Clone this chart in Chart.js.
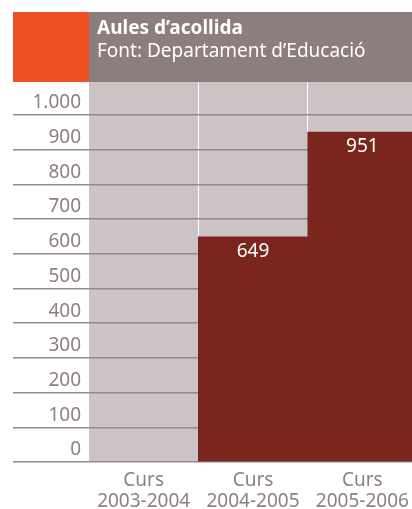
<!DOCTYPE html>
<html>
<head>
<meta charset="utf-8">
<script src="https://cdn.jsdelivr.net/npm/chart.js@4.4.1/dist/chart.umd.min.js"></script>
<style>
  html, body { margin: 0; padding: 0; background: #fff; overflow: hidden; }
  canvas { display: block; }
</style>
</head>
<body>
<!-- a few px wider than the window: the original is cropped on the right -->
<canvas id="chart" width="417" height="509"></canvas>
<script>
const ORANGE = "#f04e23";
const HEAD_GREY = "#8c7e7f";
const PLOT_BG = "#cbc3c4";
const BAR_RED = "#7a261f";
const TEXT_GREY = "#8d8081";
const GRID_GREY = "#958a8b";
const FONT = "'Noto Sans', 'Open Sans', sans-serif";

const TITLE = "Aules d\u2019acollida";
const SOURCE = "Font: Departament d\u2019Educaci\u00f3";

const COURSES = [["Curs", "2003-2004"], ["Curs", "2004-2005"], ["Curs", "2005-2006"]];
const CLASSROOMS = [null, 649, 951];
const Y_TICKS = [0, 100, 200, 300, 400, 500, 600, 700, 800, 900, 1000];

// 1000 -> "1.000"
const fmt = (v) => String(v).replace(/\B(?=(\d{3})+$)/g, ".");

// background of the plot + the header band with title
const framePlugin = {
  id: "frame",
  beforeDraw: (chart) => {
    const { ctx, chartArea: { left, right, top, bottom } } = chart;
    ctx.save();
    ctx.fillStyle = PLOT_BG;
    ctx.fillRect(left, top, right - left, bottom - top);

    ctx.fillStyle = ORANGE;
    ctx.fillRect(13, 12, left - 13, top - 12);
    ctx.fillStyle = HEAD_GREY;
    ctx.fillRect(left, 12, right - left, top - 12);

    ctx.fillStyle = "#ffffff";
    ctx.textAlign = "left";
    ctx.textBaseline = "alphabetic";
    ctx.font = "bold 19px " + FONT;
    ctx.fillText(TITLE, left + 8, 34);
    ctx.font = "19px " + FONT;
    ctx.fillText(SOURCE, left + 8, 57);
    ctx.restore();
  },
};

// value inside the top of each bar
const valuePlugin = {
  id: "values",
  afterDatasetsDraw: (chart) => {
    const { ctx } = chart;
    const meta = chart.getDatasetMeta(0);
    ctx.save();
    ctx.fillStyle = "#ffffff";
    ctx.font = "19px " + FONT;
    ctx.textAlign = "center";
    ctx.textBaseline = "middle";
    meta.data.forEach((bar, i) => {
      const v = CLASSROOMS[i];
      if (v == null) return;
      ctx.fillText(String(v), bar.x, bar.y + 15);
    });
    ctx.restore();
  },
};

new Chart(document.getElementById("chart"), {
  type: "bar",
  data: {
    labels: COURSES,
    datasets: [
      {
        data: CLASSROOMS,
        backgroundColor: BAR_RED,
        borderWidth: 0,
        categoryPercentage: 1,
        barPercentage: 1,
      },
    ],
  },
  options: {
    responsive: false,
    animation: false,
    layout: { padding: { left: 0, right: 0, top: 82, bottom: 0 } },
    plugins: {
      legend: { display: false },
      tooltip: { enabled: false },
    },
    scales: {
      x: {
        offset: true,
        border: { display: false },
        afterFit: (s) => {
          s.height = 47;
        },
        grid: {
          offset: true,
          drawTicks: false,
          lineWidth: 1,
          color: (c) =>
            c.index > 0 && c.index < COURSES.length ? "#ffffff" : "rgba(0,0,0,0)",
        },
        ticks: {
          color: TEXT_GREY,
          padding: 8,
          font: { family: FONT, size: 19, lineHeight: 1.1 },
          maxRotation: 0,
          autoSkip: false,
        },
      },
      y: {
        min: 0,
        max: 1095,
        border: { display: false },
        afterBuildTicks: (s) => {
          s.ticks = Y_TICKS.map((v) => ({ value: v }));
        },
        afterFit: (s) => {
          s.width = 89;
        },
        grid: {
          color: GRID_GREY,
          lineWidth: 1.5,
          tickLength: 76,
        },
        ticks: {
          color: TEXT_GREY,
          padding: -68,
          labelOffset: -12,
          font: { family: FONT, size: 19 },
          callback: (v) => fmt(v),
        },
      },
    },
  },
  plugins: [framePlugin, valuePlugin],
});
</script>
</body>
</html>
